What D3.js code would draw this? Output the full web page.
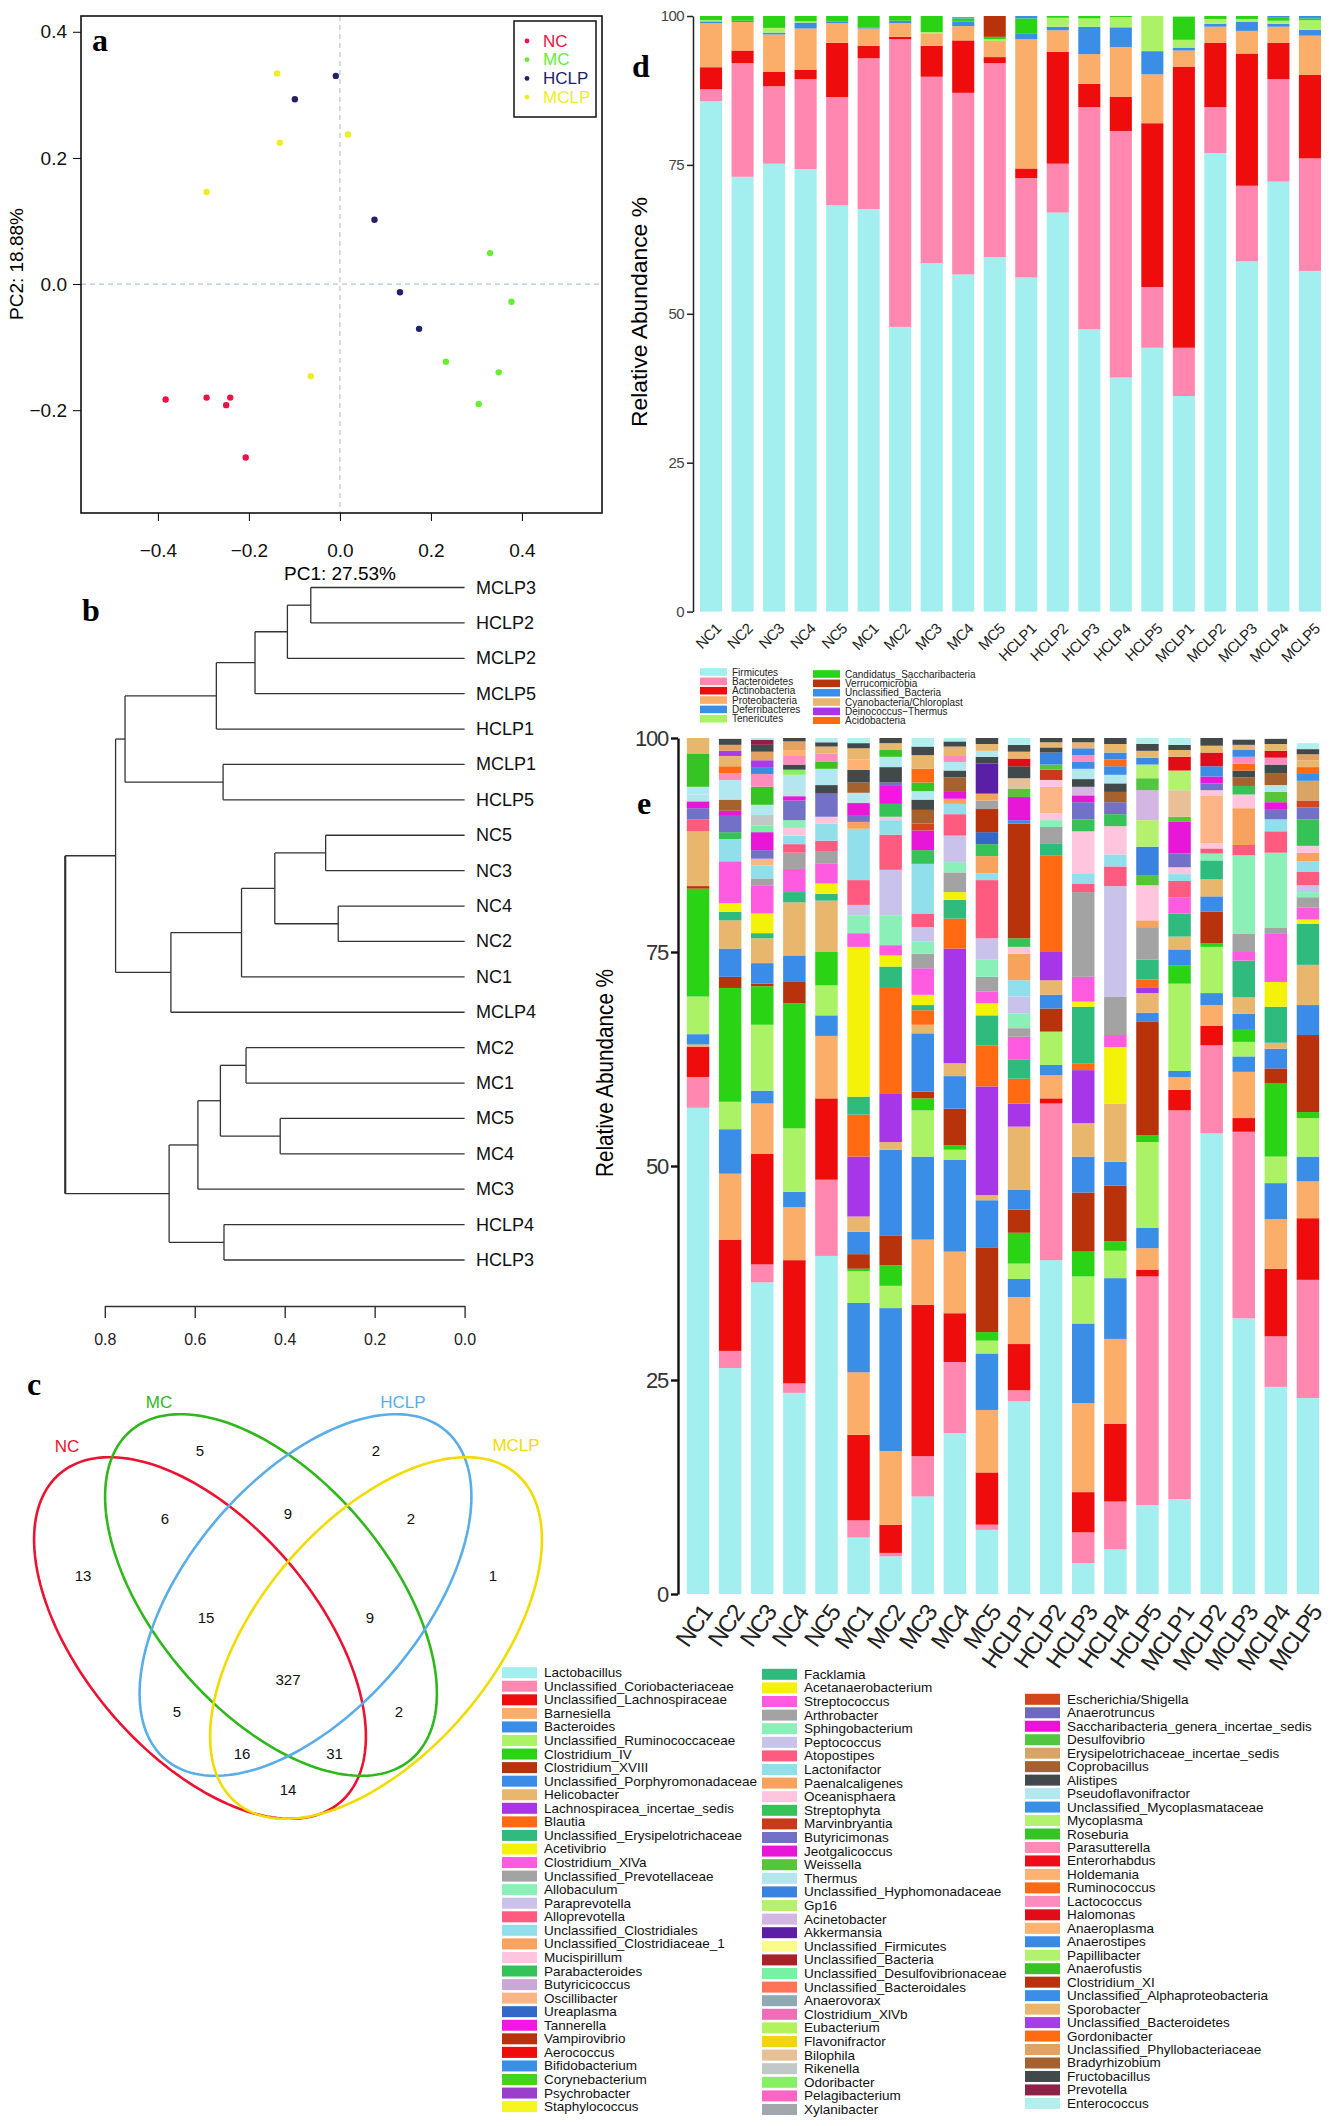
<!DOCTYPE html>
<html>
<head>
<meta charset="utf-8">
<script src="https://cdn.jsdelivr.net/npm/d3@7"></script>
<style>
  body { margin: 0; background: #fff; }
  svg { display: block; }
  text { font-family: "Liberation Sans", Arial, sans-serif; }
  .panel-tag { font-family: "Liberation Serif", "DejaVu Serif", serif; font-weight: bold; font-size: 32px; }
</style>
</head>
<body>
<svg id="fig" width="1330" height="2126"></svg>
<script>
// ---------- panel a : PCA ----------
const pcaGroups = ['NC', 'MC', 'HCLP', 'MCLP'];
const pcaPC1 = [
  [-0.383, -0.293, -0.241, -0.250, -0.207],
  [0.330, 0.377, 0.233, 0.349, 0.305],
  [-0.009, -0.099, 0.076, 0.132, 0.174],
  [-0.138, -0.132, 0.018, -0.293, -0.064],
];
const pcaPC2 = [
  [-0.183, -0.180, -0.180, -0.192, -0.275],
  [0.049, -0.028, -0.123, -0.140, -0.190],
  [0.330, 0.293, 0.102, -0.013, -0.071],
  [0.334, 0.224, 0.237, 0.146, -0.146],
];
const pcaTicks = [-0.4, -0.2, 0.0, 0.2, 0.4];
const pcaYTicks = [-0.2, 0.0, 0.2, 0.4];

// ---------- panel b : clustering (nested [height, left, right]) ----------
const dendro = [0.888,
  [0.776,
    [0.755,
      [0.552, [0.466, [0.394, [0.342, 'MCLP3', 'HCLP2'], 'MCLP2'], 'MCLP5'], 'HCLP1'],
      [0.537, 'MCLP1', 'HCLP5']],
    [0.653, [0.496, [0.422, [0.309, 'NC5', 'NC3'], [0.281, 'NC4', 'NC2']], 'NC1'], 'MCLP4']],
  [0.657,
    [0.593, [0.543, [0.486, 'MC2', 'MC1'], [0.410, 'MC5', 'MC4']], 'MC3'],
    [0.535, 'HCLP4', 'HCLP3']]];
const dendroTicks = [0.8, 0.6, 0.4, 0.2, 0.0];

// ---------- panel c : venn ----------
const vennSets = ['NC', 'MC', 'HCLP', 'MCLP'];
const vennRegions = ['NC', 'MC', 'HCLP', 'MCLP', 'NC&MC', 'MC&HCLP', 'HCLP&MCLP', 'NC&MC&HCLP',
  'MC&HCLP&MCLP', 'ALL', 'NC&HCLP', 'MC&MCLP', 'NC&HCLP&MCLP', 'NC&MC&MCLP', 'NC&MCLP'];
const vennCounts = [13, 5, 2, 1, 6, 9, 2, 15, 9, 327, 5, 2, 16, 31, 14];

// ---------- panel d : phylum ----------
const samples = ['NC1','NC2','NC3','NC4','NC5','MC1','MC2','MC3','MC4','MC5',
  'HCLP1','HCLP2','HCLP3','HCLP4','HCLP5','MCLP1','MCLP2','MCLP3','MCLP4','MCLP5'];
const phyla = ['Firmicutes','Bacteroidetes','Actinobacteria','Proteobacteria','Deferribacteres','Tenericutes',
  'Candidatus_Saccharibacteria','Verrucomicrobia','Unclassified_Bacteria','Cyanobacteria/Chloroplast',
  'Deinococcus−Thermus','Acidobacteria'];
const firmicutes      = [85.7,73.0,75.2,74.3,68.2,67.6,47.8,58.5,56.6,59.5,56.1,67.0,47.4,39.3,44.3,36.2,77.0,58.8,72.2,57.2];
const bacteroidetes   = [2.0,19.1,13.0,15.1,18.2,25.3,48.3,31.3,30.5,32.6,16.7,8.2,37.3,41.4,10.2,8.1,7.7,12.7,17.2,18.9];
const actinobacteria  = [3.7,2.1,2.4,1.6,9.1,2.1,0.4,5.2,8.8,1.0,1.6,18.8,3.9,5.7,27.5,47.2,10.8,22.2,6.1,14.0];
const proteobacteria  = [7.4,4.8,6.3,6.9,3.3,2.9,2.3,2.1,2.4,2.7,21.7,3.6,5.0,8.4,8.2,2.7,2.7,3.8,2.7,6.6];
const deferribacteres = [0.3,0.2,0.3,1.0,0.3,0.2,0.4,0.0,0.8,0.0,1.0,0.6,4.6,3.3,3.9,0.5,0.5,1.5,0.5,1.0];
const tenericutes     = [0.2,0.0,0.8,0.2,0.0,0.0,0.0,0.2,0.0,0.3,0.0,1.5,1.4,1.7,5.9,1.3,0.8,0.5,0.5,1.6];
const saccharibact    = [0.7,0.8,2.0,0.9,0.9,1.9,0.8,2.7,0.5,0.4,2.5,0.3,0.4,0.3,0.0,3.9,0.5,0.5,0.5,0.3];
const verrucomicrobia = [0,0,0,0,0,0,0,0,0,3.8,0,0,0,0,0,0,0,0,0,0];
const unclassBacteria = [0,0,0,0,0,0,0,0,0.2,0,0.4,0,0,0,0,0,0,0,0.5,0.4];
const cyanobacteria   = [0,0,0,0,0,0,0,0,0,0,0,0,0,0,0,0,0,0,0,0];
const deinococcus     = [0,0,0,0,0,0,0,0,0,0,0,0,0,0,0,0,0,0,0,0];
const acidobacteria   = [0,0,0,0,0,0,0,0,0,0,0,0,0,0,0,0,0,0,0,0];
const phylumSeries = [firmicutes, bacteroidetes, actinobacteria, proteobacteria, deferribacteres, tenericutes,
  saccharibact, verrucomicrobia, unclassBacteria, cyanobacteria, deinococcus, acidobacteria];
const abundanceTicks = [0, 25, 50, 75, 100];

// ---------- panel e : genus ----------
const genera = ['Lactobacillus','Unclassified_Coriobacteriaceae','Unclassified_Lachnospiraceae','Barnesiella',
  'Bacteroides','Unclassified_Ruminococcaceae','Clostridium_IV','Clostridium_XVIII','Unclassified_Porphyromonadaceae',
  'Helicobacter','Lachnospiracea_incertae_sedis','Blautia','Unclassified_Erysipelotrichaceae','Acetivibrio',
  'Clostridium_XlVa','Unclassified_Prevotellaceae','Allobaculum','Paraprevotella','Alloprevotella',
  'Unclassified_Clostridiales','Unclassified_Clostridiaceae_1','Mucispirillum','Parabacteroides','Butyricicoccus',
  'Oscillibacter','Ureaplasma','Tannerella','Vampirovibrio','Aerococcus','Bifidobacterium','Corynebacterium',
  'Psychrobacter','Staphylococcus',
  'Facklamia','Acetanaerobacterium','Streptococcus','Arthrobacter','Sphingobacterium','Peptococcus','Atopostipes',
  'Lactonifactor','Paenalcaligenes','Oceanisphaera','Streptophyta','Marvinbryantia','Butyricimonas','Jeotgalicoccus',
  'Weissella','Thermus','Unclassified_Hyphomonadaceae','Gp16','Acinetobacter','Akkermansia','Unclassified_Firmicutes',
  'Unclassified_Bacteria','Unclassified_Desulfovibrionaceae','Unclassified_Bacteroidales','Anaerovorax',
  'Clostridium_XlVb','Eubacterium','Flavonifractor','Bilophila','Rikenella','Odoribacter','Pelagibacterium','Xylanibacter',
  'Escherichia/Shigella','Anaerotruncus','Saccharibacteria_genera_incertae_sedis','Desulfovibrio',
  'Erysipelotrichaceae_incertae_sedis','Coprobacillus','Alistipes','Pseudoflavonifractor',
  'Unclassified_Mycoplasmataceae','Mycoplasma','Roseburia','Parasutterella','Enterorhabdus','Holdemania',
  'Ruminococcus','Lactococcus','Halomonas','Anaeroplasma','Anaerostipes','Papillibacter','Anaerofustis',
  'Clostridium_XI','Unclassified_Alphaproteobacteria','Sporobacter','Unclassified_Bacteroidetes','Gordonibacter',
  'Unclassified_Phyllobacteriaceae','Bradyrhizobium','Fructobacillus','Prevotella','Enterococcus'];

// [genus index, relative abundance %] per sample, bottom to top
const e_NC1 = [[0,56.8],[1,3.6],[2,3.5],[3,0.3],[4,1.2],[5,4.4],[6,12.6],[7,0.3],[9,6.4],[18,1.4],[45,1.3],[46,0.8],[48,0.8],[73,0.9],[76,3.9],[89,1.8]];
const e_NC2 = [[0,26.4],[1,2.0],[2,13.0],[3,7.7],[4,5.2],[5,3.2],[6,13.3],[7,1.3],[8,3.3],[9,3.3],[12,1.0],[13,1.0],[14,4.9],[19,2.6],[22,0.8],[45,1.9],[46,0.6],[71,1.3],[73,2.3],[77,0.8],[80,0.8],[89,1.2],[90,0.6],[92,0.7],[94,0.7]];
const e_NC3 = [[0,36.4],[1,2.1],[2,12.9],[3,5.9],[4,1.5],[5,7.7],[6,4.5],[7,0.3],[8,2.4],[9,2.9],[12,0.6],[13,2.3],[14,3.3],[15,0.8],[19,1.5],[24,0.8],[45,1.0],[46,2.1],[55,0.8],[62,1.2],[73,1.2],[76,2.1],[81,1.5],[84,0.8],[90,0.8],[92,1.0],[94,0.8],[95,0.6],[96,0.6]];
const e_NC4 = [[0,23.5],[1,1.1],[2,14.4],[3,6.2],[4,1.8],[5,7.4],[6,14.6],[7,2.5],[8,3.1],[9,6.2],[12,1.2],[14,2.7],[15,1.9],[18,1.0],[19,1.0],[21,0.9],[37,0.9],[45,2.3],[46,0.5],[48,2.5],[63,0.6],[72,0.6],[81,1.0],[83,0.7],[92,1.0],[94,0.4]];
const e_NC5 = [[0,39.5],[1,8.9],[2,9.5],[3,7.3],[4,2.4],[5,3.5],[6,3.9],[9,6.0],[12,0.8],[13,1.2],[14,2.3],[15,1.5],[18,1.2],[19,2.0],[21,0.8],[45,2.7],[72,1.0],[73,1.9],[76,0.8],[81,1.0],[89,0.8],[94,0.5],[96,0.5]];
const e_MC1 = [[0,6.6],[1,2.0],[2,10.0],[3,7.3],[4,8.1],[5,3.7],[6,0.3],[7,1.7],[8,2.6],[9,1.8],[10,7.0],[11,4.9],[12,2.1],[13,17.5],[14,1.6],[16,2.1],[17,1.2],[18,2.9],[19,6.0],[20,0.8],[45,0.8],[46,1.4],[48,1.2],[71,1.2],[72,1.5],[79,1.2],[89,1.3],[94,0.6],[96,0.6]];
const e_MC2 = [[0,4.4],[1,0.4],[2,3.3],[3,8.6],[4,16.7],[5,2.6],[6,2.4],[7,3.5],[8,10.0],[9,0.9],[10,5.7],[11,12.3],[12,2.5],[13,1.3],[14,1.2],[16,3.5],[17,5.3],[18,4.1],[19,1.7],[21,0.4],[22,1.5],[26,2.1],[45,0.4],[72,1.8],[73,1.2],[76,0.8],[89,0.8],[94,0.6]];
const e_MC3 = [[0,11.4],[1,4.7],[2,17.7],[3,7.6],[4,9.7],[5,5.4],[6,1.4],[7,0.8],[8,6.8],[9,1.0],[11,1.7],[12,0.6],[13,1.2],[14,3.1],[15,1.7],[16,1.4],[17,1.7],[18,1.6],[19,5.8],[22,1.6],[46,2.3],[66,0.8],[71,1.6],[72,1.2],[73,1.0],[76,1.0],[80,1.6],[89,1.6],[94,1.0],[96,1.0]];
const e_MC4 = [[0,18.8],[1,8.3],[2,5.7],[3,7.2],[4,10.7],[5,1.2],[6,0.5],[7,4.3],[8,3.8],[9,1.5],[10,13.4],[11,3.5],[12,2.2],[13,0.9],[15,2.3],[16,1.2],[17,3.1],[18,2.5],[19,1.2],[20,0.6],[46,0.8],[71,1.7],[72,0.8],[73,1.0],[81,0.8],[89,1.0],[94,0.6],[96,0.4]];
const e_MC5 = [[0,7.5],[1,0.6],[2,6.1],[3,7.3],[4,6.6],[5,1.5],[6,1.0],[7,9.9],[8,5.5],[9,0.6],[10,12.7],[11,4.8],[12,3.5],[13,1.4],[14,1.4],[15,1.7],[16,2.0],[17,2.5],[18,6.8],[19,0.8],[20,2.0],[22,1.4],[25,1.4],[27,2.7],[36,1.0],[41,0.8],[52,3.5],[72,0.8],[73,0.7],[89,0.8],[94,0.7]];
const e_HCLP1 = [[0,22.5],[1,1.3],[2,5.4],[3,5.5],[4,2.1],[5,1.8],[6,3.6],[7,2.7],[8,2.3],[9,7.4],[10,2.7],[11,2.9],[12,2.2],[14,2.7],[15,1.0],[16,1.7],[17,2.0],[19,1.9],[20,3.1],[21,0.8],[22,1.0],[27,13.4],[29,0.4],[46,2.7],[47,1.0],[61,1.2],[72,1.4],[82,0.9],[89,0.8],[94,0.8],[96,0.8]];
const e_HCLP2 = [[0,39.0],[1,18.3],[2,0.6],[3,2.7],[4,1.2],[5,3.9],[7,2.7],[8,1.6],[9,1.7],[10,3.3],[11,11.3],[12,1.4],[15,1.9],[16,0.8],[21,0.8],[24,3.1],[42,0.8],[44,1.2],[47,0.6],[49,1.4],[72,0.6],[89,0.6],[94,0.5]];
const e_HCLP3 = [[0,3.6],[1,3.6],[2,4.7],[3,10.4],[4,9.3],[5,5.5],[6,2.9],[7,6.9],[8,4.2],[9,3.9],[10,6.2],[11,0.8],[12,6.6],[13,0.6],[14,2.9],[15,9.9],[18,1.0],[19,1.2],[21,4.9],[22,1.4],[45,2.0],[46,0.8],[51,1.0],[72,0.9],[73,1.2],[74,0.8],[81,0.8],[84,0.8],[89,0.7],[94,0.5]];
const e_HCLP4 = [[0,5.2],[1,5.6],[2,9.1],[3,9.9],[4,7.1],[5,3.2],[6,1.1],[7,6.5],[8,2.8],[9,6.8],[13,6.6],[14,1.4],[15,4.5],[17,12.9],[18,2.3],[19,1.4],[21,3.3],[22,1.4],[45,1.4],[71,1.2],[72,1.0],[73,1.0],[74,1.0],[80,0.8],[84,0.8],[89,1.0],[94,0.8]];
const e_HCLP5 = [[0,10.4],[1,26.7],[2,0.8],[3,2.5],[4,2.4],[5,10.0],[6,0.8],[7,13.3],[8,1.0],[9,2.3],[10,0.6],[11,1.0],[12,2.3],[15,3.8],[20,0.8],[21,4.1],[47,1.2],[49,3.3],[50,3.1],[51,3.5],[69,1.4],[75,1.6],[84,0.8],[89,0.8],[94,0.8],[96,0.7]];
const e_MCLP1 = [[0,11.1],[1,45.4],[2,2.4],[3,1.5],[4,0.7],[5,10.2],[6,2.1],[8,1.9],[9,1.5],[12,2.7],[14,1.9],[18,1.9],[19,0.8],[21,0.8],[45,1.6],[46,3.7],[47,0.6],[61,3.1],[75,2.3],[82,1.6],[89,0.8],[94,0.6],[96,0.8]];
const e_MCLP2 = [[0,53.8],[1,10.3],[2,2.3],[3,2.4],[4,1.4],[5,5.4],[6,0.4],[7,3.7],[8,1.8],[9,2.0],[12,2.2],[16,0.8],[18,0.6],[21,0.6],[24,5.6],[42,0.6],[45,0.8],[46,0.8],[74,1.2],[82,1.6],[89,0.8],[94,0.9]];
const e_MCLP3 = [[0,32.2],[1,21.8],[2,1.6],[3,5.4],[4,1.8],[5,1.7],[6,1.4],[8,1.9],[9,1.9],[12,4.3],[14,1.0],[15,2.1],[16,9.2],[18,1.2],[20,4.3],[21,1.6],[22,1.0],[71,1.0],[72,0.8],[80,0.8],[81,0.8],[84,0.8],[89,0.6],[94,0.6]];
const e_MCLP4 = [[0,24.2],[1,5.9],[2,7.9],[3,5.8],[4,4.2],[5,3.1],[6,8.6],[7,1.7],[8,2.3],[9,0.7],[12,4.2],[13,2.9],[14,5.7],[15,0.6],[16,8.8],[18,2.5],[19,1.4],[45,1.2],[46,0.8],[47,1.2],[48,0.8],[71,1.4],[72,1.0],[81,0.8],[82,0.8],[89,0.8],[94,0.6]];
const e_MCLP5 = [[0,22.9],[1,13.8],[2,7.2],[3,4.3],[4,2.9],[5,4.5],[6,0.7],[7,9.0],[8,3.5],[9,4.7],[12,4.8],[13,0.5],[14,1.4],[15,1.2],[16,0.6],[17,0.8],[18,1.6],[19,1.2],[20,1.0],[21,0.8],[22,3.1],[45,1.4],[66,0.8],[70,2.3],[74,0.8],[80,0.8],[89,0.8],[92,0.7],[94,0.6],[96,0.7]];
const genusBySample = [e_NC1, e_NC2, e_NC3, e_NC4, e_NC5, e_MC1, e_MC2, e_MC3, e_MC4, e_MC5,
  e_HCLP1, e_HCLP2, e_HCLP3, e_HCLP4, e_HCLP5, e_MCLP1, e_MCLP2, e_MCLP3, e_MCLP4, e_MCLP5];

// ---------- styles ----------
const GROUP_COLORS = { NC: '#ee1144', MC: '#66ee33', HCLP: '#222266', MCLP: '#eeee22' };
const VENN_COLORS = { NC: '#ec1230', MC: '#2fb81c', HCLP: '#5aaee8', MCLP: '#f2dc00' };
const PHYLUM_COLORS = ['#a3efef','#ff87b0','#ee0c0c','#fbad6a','#3a8ee6','#abf266',
  '#2ad414','#b8330c','#3a8ee6','#e9b66e','#a636e8','#ff6a12'];
const GENUS_COLORS = ['#a3efef','#ff87b0','#ee0c0c','#fbad6a','#3a8ee6','#abf266','#2ad414','#b8330c','#3b8ce8',
  '#e9b66e','#a636e8','#ff6a12','#2fba7e','#f5f20a','#ff5be0','#a3a3a3','#8af0b8','#c9c2ea','#ff5a80','#92dfec',
  '#f7a35e','#ffc4de','#35c256','#c9aad6','#fcb585','#3468c8','#f516e3','#b8330c','#ee0c0c','#3a8ee6','#43d41e',
  '#9a3fcc','#f5f520',
  '#2fba7e','#f5f20a','#ff5be0','#a3a3a3','#8af0b8','#c9c2ea','#ff5a80','#92dfec','#f7a35e','#ffc4de','#35c256',
  '#c9391a','#7370c8','#e816d6','#58c438','#b5e6ee','#3a82e0','#b5f06e','#d4b6e2','#5a1fa6','#fbfb8c','#a82028',
  '#76f2a2','#ff7356','#91a8b5','#f06eb8','#b2f25a','#f2d412','#e8c098','#c2c8c8','#85f064','#ff63c4','#a1a7ad',
  '#d2461e','#7068c0','#f010d8','#52c640','#d9a565','#a5612e','#42494a','#b2e8f0','#3a8ee6','#b2f26e','#36c424',
  '#ff8cb4','#ee0c18','#ffb271','#ff6a12','#ff8cbc','#e00c18','#ffb271','#3a8ae4','#b2f26e','#36c424','#b8330c',
  '#3a8ee6','#e9b66e','#a63ee8','#ff6a12','#e3a262','#a5612e','#42494a','#8c2246','#b2f0f0'];

const svg = d3.select('#fig');

function tag(letter, x, y) {
  svg.append('text').attr('class', 'panel-tag').attr('x', x).attr('y', y).attr('text-anchor', 'middle').text(letter);
}

// =============== panel a ===============
(function drawPca() {
  const x = d3.scaleLinear().domain([-0.569, 0.576]).range([81, 602]);
  const y = d3.scaleLinear().domain([-0.363, 0.425]).range([513, 16]);
  const g = svg.append('g');
  g.append('line').attr('x1', x(0)).attr('x2', x(0)).attr('y1', 16).attr('y2', 513)
    .attr('stroke', '#b4c6d6').attr('stroke-dasharray', '5,4').attr('stroke-width', 1.2);
  g.append('line').attr('x1', 81).attr('x2', 602).attr('y1', y(0)).attr('y2', y(0))
    .attr('stroke', '#b4c6d6').attr('stroke-dasharray', '5,4').attr('stroke-width', 1.2);

  pcaGroups.forEach((grp, gi) => {
    g.selectAll(null).data(pcaPC1[gi].map((v, i) => [v, pcaPC2[gi][i]])).enter()
      .append('circle').attr('cx', d => x(d[0])).attr('cy', d => y(d[1])).attr('r', 3.2)
      .attr('fill', GROUP_COLORS[grp]);
  });

  const ax = g.append('g').attr('transform', 'translate(0,513)')
    .call(d3.axisBottom(x).tickValues(pcaTicks).tickFormat(d3.format('.1f')).tickSize(8).tickSizeOuter(0));
  ax.select('.domain').remove();
  ax.selectAll('text').attr('font-size', 19).attr('dy', '1.75em').attr('fill', '#111');
  const ay = g.append('g').attr('transform', 'translate(81,0)')
    .call(d3.axisLeft(y).tickValues(pcaYTicks).tickFormat(d3.format('.1f')).tickSize(8).tickSizeOuter(0));
  ay.select('.domain').remove();
  ay.selectAll('text').attr('font-size', 19).attr('fill', '#111').attr('x', -14);

  g.append('rect').attr('x', 81).attr('y', 16).attr('width', 521).attr('height', 497)
    .attr('fill', 'none').attr('stroke', '#111').attr('stroke-width', 1.6);

  g.append('text').attr('transform', 'translate(16,264) rotate(-90)').attr('text-anchor', 'middle')
    .attr('dominant-baseline', 'central').attr('font-size', 19).text('PC2: 18.88%');
  g.append('text').attr('x', 340).attr('y', 580).attr('text-anchor', 'middle').attr('font-size', 19).text('PC1: 27.53%');

  const lg = g.append('g');
  lg.append('rect').attr('x', 514).attr('y', 21).attr('width', 82).attr('height', 96)
    .attr('fill', '#fff').attr('stroke', '#111').attr('stroke-width', 1.5);
  pcaGroups.forEach((grp, i) => {
    const yy = 41 + i * 18.7;
    lg.append('circle').attr('cx', 527).attr('cy', yy).attr('r', 2.4).attr('fill', GROUP_COLORS[grp]);
    lg.append('text').attr('x', 543).attr('y', yy).attr('dominant-baseline', 'central')
      .attr('font-size', 17).attr('fill', GROUP_COLORS[grp]).text(grp);
  });
  tag('a', 100, 51);
})();

// =============== panel b ===============
(function drawDendrogram() {
  const root = d3.hierarchy(dendro, d => Array.isArray(d) ? d.slice(1) : null);
  d3.cluster().nodeSize([1, 1]).separation(() => 1)(root);
  const leaves = root.leaves();
  const y = d3.scaleLinear().domain(d3.extent(leaves, d => d.x)).range([587.5, 1260]);
  const x = d3.scaleLinear().domain([0, 0.8]).range([464.6, 104.8]);
  const h = n => Array.isArray(n.data) ? n.data[0] : 0;
  const g = svg.append('g').attr('fill', 'none').attr('stroke', '#333').attr('stroke-width', 1.3);

  root.each(n => {
    if (!n.children) return;
    const ys = n.children.map(c => y(c.x));
    g.append('line').attr('x1', x(h(n))).attr('x2', x(h(n)))
      .attr('y1', d3.min(ys)).attr('y2', d3.max(ys))
      .attr('stroke-width', n.depth === 0 ? 2.2 : 1.3);
    n.children.forEach(c => {
      g.append('line').attr('x1', x(h(n))).attr('x2', x(h(c))).attr('y1', y(c.x)).attr('y2', y(c.x));
    });
  });

  svg.append('g').selectAll('text').data(leaves).enter().append('text')
    .attr('x', 476).attr('y', d => y(d.x)).attr('dominant-baseline', 'central')
    .attr('font-size', 18).attr('fill', '#111').text(d => d.data);

  const ax = svg.append('g').attr('transform', 'translate(0,1306)')
    .call(d3.axisBottom(x).tickValues(dendroTicks).tickFormat(d3.format('.1f')).tickSize(12).tickSizeOuter(0));
  ax.selectAll('line,path').attr('stroke', '#333').attr('stroke-width', 1.4);
  ax.selectAll('text').attr('font-size', 16).attr('fill', '#222').attr('dy', '1.5em');
  tag('b', 91, 621);
})();

// =============== panel c ===============
(function drawVenn() {
  // ellipse layout in px: centre, semi-axes, tilt
  const ELLIPSES = {
    NC:   { cx: 200,   cy: 1638, a: 216, b: 116.5, rot: 49.5 },
    MC:   { cx: 271,   cy: 1595, a: 216, b: 116.5, rot: 49.5 },
    HCLP: { cx: 305.5, cy: 1595, a: 216, b: 116.5, rot: -49.5 },
    MCLP: { cx: 376,   cy: 1638, a: 216, b: 116.5, rot: -49.5 },
  };
  const LABEL_POS = {
    'NC': [83, 1575], 'MC': [200, 1450], 'HCLP': [376, 1450], 'MCLP': [493, 1575],
    'NC&MC': [165, 1518], 'MC&HCLP': [288, 1513], 'HCLP&MCLP': [411, 1518],
    'NC&MC&HCLP': [206, 1617], 'MC&HCLP&MCLP': [370, 1617], 'ALL': [288, 1679],
    'NC&HCLP': [177, 1711], 'MC&MCLP': [399, 1711], 'NC&HCLP&MCLP': [242, 1753],
    'NC&MC&MCLP': [334.5, 1753], 'NC&MCLP': [288, 1789],
  };
  const NAME_POS = { NC: [67, 1446], MC: [159, 1402], HCLP: [403, 1402], MCLP: [516, 1445] };
  const ts = d3.range(0, 2 * Math.PI, Math.PI / 90);
  const line = d3.line().curve(d3.curveLinearClosed);
  vennSets.forEach(s => {
    const e = ELLIPSES[s], r = e.rot * Math.PI / 180;
    const pts = ts.map(t => [
      e.cx + e.a * Math.cos(t) * Math.cos(r) - e.b * Math.sin(t) * Math.sin(r),
      e.cy + e.a * Math.cos(t) * Math.sin(r) + e.b * Math.sin(t) * Math.cos(r)]);
    svg.append('path').attr('d', line(pts)).attr('fill', 'none')
      .attr('stroke', VENN_COLORS[s]).attr('stroke-width', 2.6);
    svg.append('text').attr('x', NAME_POS[s][0]).attr('y', NAME_POS[s][1])
      .attr('text-anchor', 'middle').attr('dominant-baseline', 'central')
      .attr('font-size', 17).attr('fill', VENN_COLORS[s]).text(s);
  });
  svg.append('g').selectAll('text').data(vennRegions).enter().append('text')
    .attr('x', d => LABEL_POS[d][0]).attr('y', d => LABEL_POS[d][1])
    .attr('text-anchor', 'middle').attr('dominant-baseline', 'central')
    .attr('font-size', 15).attr('fill', '#111').text((d, i) => vennCounts[i]);
  tag('c', 34, 1395);
})();

// =============== panel d ===============
(function drawPhylum() {
  const x = d3.scaleBand().domain(samples).range([695.3, 1325.7]).paddingInner(0.3).paddingOuter(0.15);
  const y = d3.scaleLinear().domain([0, 100]).range([611.6, 16]);
  const rows = samples.map((s, i) => {
    const r = { sample: s };
    phyla.forEach((p, k) => { r[p] = phylumSeries[k][i]; });
    return r;
  });
  const stacked = d3.stack().keys(phyla)(rows);
  const g = svg.append('g');
  stacked.forEach((layer, k) => {
    g.selectAll(null).data(layer.filter(d => d[1] - d[0] > 0)).enter().append('rect')
      .attr('x', d => x(d.data.sample)).attr('width', x.bandwidth())
      .attr('y', d => y(Math.min(100, d[1]))).attr('height', d => Math.max(0, y(d[0]) - y(Math.min(100, d[1]))))
      .attr('fill', PHYLUM_COLORS[k]);
  });
  const ay = svg.append('g').attr('transform', 'translate(693,0)')
    .call(d3.axisLeft(y).tickValues(abundanceTicks).tickSize(6).tickSizeOuter(0));
  ay.selectAll('line,path').attr('stroke', '#222').attr('stroke-width', 1.5);
  ay.selectAll('text').attr('font-size', 15).attr('fill', '#444').attr('letter-spacing', '-0.6px');
  svg.append('text').attr('transform', 'translate(639,312) rotate(-90)').attr('text-anchor', 'middle')
    .attr('dominant-baseline', 'central').attr('font-size', 22).attr('textLength', 230)
    .attr('lengthAdjust', 'spacingAndGlyphs').text('Relative Abundance %');
  svg.append('g').selectAll('text').data(samples).enter().append('text')
    .attr('transform', d => `translate(${x(d) + x.bandwidth() / 2 + 7},626) rotate(-45)`)
    .attr('text-anchor', 'end').attr('dominant-baseline', 'central')
    .attr('font-size', 15).attr('letter-spacing', '-0.6px').attr('fill', '#222').text(d => d);

  // legend, clipped by panel e like the original
  svg.append('clipPath').attr('id', 'dlegClip').append('rect')
    .attr('x', 690).attr('y', 660).attr('width', 330).attr('height', 64);
  const lg = svg.append('g').attr('clip-path', 'url(#dlegClip)');
  phyla.forEach((p, i) => {
    const col = Math.floor(i / 6), row = i % 6;
    const lx = col ? 813 : 700, ly = (col ? 674 : 672) + row * 9.35;
    lg.append('rect').attr('x', lx).attr('y', ly - 3.8).attr('width', 27).attr('height', 7.6).attr('fill', PHYLUM_COLORS[i]);
    lg.append('text').attr('x', lx + 32).attr('y', ly).attr('dominant-baseline', 'central')
      .attr('font-size', 10).attr('fill', '#222').text(p);
  });
  tag('d', 641, 77);
})();

// =============== panel e ===============
(function drawGenus() {
  const x = d3.scaleBand().domain(samples).range([682, 1324]).paddingInner(0.3).paddingOuter(0.15);
  const y = d3.scaleLinear().domain([0, 100]).range([1594, 738]);
  const rows = samples.map((s, i) => {
    const r = { sample: s };
    genera.forEach(gn => { r[gn] = 0; });
    genusBySample[i].forEach(([gi, v]) => { r[genera[gi]] = v; });
    return r;
  });
  const stacked = d3.stack().keys(genera)(rows);
  const g = svg.append('g');
  stacked.forEach((layer, k) => {
    g.selectAll(null).data(layer.filter(d => d[1] - d[0] > 0)).enter().append('rect')
      .attr('x', d => x(d.data.sample)).attr('width', x.bandwidth())
      .attr('y', d => y(Math.min(100, d[1]))).attr('height', d => Math.max(0, y(Math.max(0, d[0])) - y(Math.min(100, d[1]))))
      .attr('fill', GENUS_COLORS[k]);
  });
  const ay = svg.append('g').attr('transform', 'translate(678,0)')
    .call(d3.axisLeft(y).tickValues(abundanceTicks).tickSize(7).tickSizeOuter(0));
  ay.selectAll('line,path').attr('stroke', '#111').attr('stroke-width', 2.4);
  ay.selectAll('text').attr('font-size', 22).attr('fill', '#333').attr('letter-spacing', '-1.2px').attr('x', -10);
  svg.append('text').attr('transform', 'translate(604,1073) rotate(-90)').attr('text-anchor', 'middle')
    .attr('dominant-baseline', 'central').attr('font-size', 24).attr('textLength', 208)
    .attr('lengthAdjust', 'spacingAndGlyphs').text('Relative Abundance %');
  svg.append('g').selectAll('text').data(samples).enter().append('text')
    .attr('transform', d => `translate(${x(d) + x.bandwidth() / 2 + 8},1608) rotate(-55)`)
    .attr('text-anchor', 'end').attr('dominant-baseline', 'central')
    .attr('font-size', 24).attr('letter-spacing', '-1.5px').attr('fill', '#222').text(d => d);

  // legend, three columns
  const COLS = [
    { from: 0, to: 33, x: 502, y0: 1672.7, dy: 13.56 },
    { from: 33, to: 66, x: 762, y0: 1674.3, dy: 13.6 },
    { from: 66, to: 97, x: 1025, y0: 1699.3, dy: 13.47 },
  ];
  COLS.forEach(c => {
    d3.range(c.from, c.to).forEach((gi, r) => {
      const ly = c.y0 + r * c.dy;
      svg.append('rect').attr('x', c.x).attr('y', ly - 5.5).attr('width', 35).attr('height', 11)
        .attr('fill', GENUS_COLORS[gi]);
      svg.append('text').attr('x', c.x + 42).attr('y', ly).attr('dominant-baseline', 'central')
        .attr('font-size', 13.5).attr('fill', '#111').text(genera[gi]);
    });
  });
  tag('e', 644, 814);
})();
</script>
</body>
</html>
